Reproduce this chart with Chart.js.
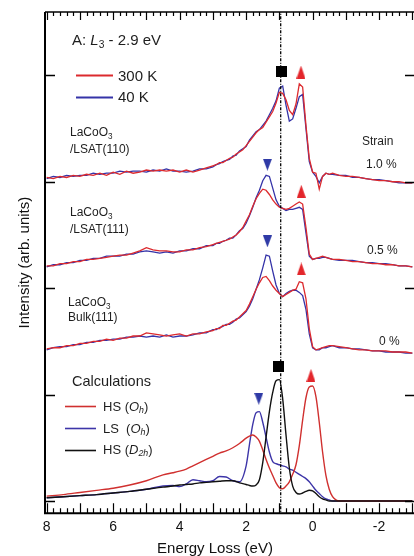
<!DOCTYPE html>
<html>
<head>
<meta charset="utf-8">
<script src="https://cdn.jsdelivr.net/npm/chart.js@4.4.1/dist/chart.umd.min.js"></script>
<style>
  html, body { margin: 0; padding: 0; background: #fff; }
  #wrap { width: 414px; height: 556px; position: relative; }
</style>
</head>
<body>
<div id="wrap"><canvas id="c"></canvas></div>
<script>
// energy loss grid of the measured spectra (eV)
const eExp = [
  8.0, 7.8, 7.6, 7.4, 7.2, 7.0, 6.8, 6.6, 6.4, 6.2, 6.0, 5.8, 5.6, 5.4, 5.2, 5.0, 4.8, 4.6, 4.4, 4.2, 4.0, 3.8, 3.6, 3.4, 3.2,
  3.0, 2.9, 2.8, 2.7, 2.6, 2.5, 2.4, 2.3, 2.2, 2.1, 2.0, 1.9, 1.8, 1.7, 1.6, 1.5, 1.4, 1.3, 1.2, 1.1, 1.0, 0.9, 0.8, 0.7, 0.6,
  0.5, 0.4, 0.3, 0.2, 0.1, 0.0, -0.1, -0.2, -0.3, -0.4, -0.5, -0.6,
  -0.8, -1.0, -1.2, -1.4, -1.6, -1.8, -2.0, -2.2, -2.4, -2.6, -2.8, -3.0,
];

// LaCoO3 Bulk(111), strain 0 %
const bulk300 = [
  1.43, 1.44, 1.44, 1.46, 1.46, 1.48, 1.48, 1.50, 1.50, 1.52, 1.51, 1.53, 1.53, 1.55, 1.55, 1.58, 1.57, 1.56, 1.55, 1.56, 1.57, 1.55, 1.57, 1.57, 1.59,
  1.60, 1.62, 1.62, 1.65, 1.65, 1.67, 1.69, 1.70, 1.73, 1.76, 1.79, 1.85, 1.92, 1.99, 2.05, 2.10, 2.11, 2.07, 2.02, 1.98, 1.95, 1.92, 1.94, 1.96, 1.98,
  1.99, 2.06, 2.05, 1.90, 1.62, 1.45, 1.42, 1.43, 1.44, 1.45, 1.46, 1.46,
  1.45, 1.44, 1.43, 1.42, 1.42, 1.41, 1.41, 1.41, 1.40, 1.40, 1.40, 1.39,
];
const bulk40 = [
  1.42, 1.44, 1.45, 1.45, 1.47, 1.47, 1.49, 1.49, 1.51, 1.51, 1.52, 1.52, 1.54, 1.54, 1.55, 1.54, 1.55, 1.54, 1.56, 1.54, 1.55, 1.55, 1.56, 1.58, 1.58,
  1.61, 1.61, 1.63, 1.64, 1.66, 1.66, 1.68, 1.71, 1.72, 1.75, 1.78, 1.83, 1.90, 1.99, 2.08, 2.19, 2.31, 2.30, 2.16, 2.03, 1.95, 1.92, 1.95, 1.97, 1.98,
  1.98, 1.96, 1.93, 1.80, 1.57, 1.44, 1.42, 1.42, 1.44, 1.44, 1.45, 1.46,
  1.44, 1.44, 1.43, 1.43, 1.42, 1.41, 1.41, 1.40, 1.40, 1.40, 1.39, 1.39,
];

// LaCoO3/LSAT(111), strain 0.5 %
const s05_300 = [
  2.21, 2.21, 2.23, 2.23, 2.25, 2.25, 2.27, 2.27, 2.28, 2.29, 2.30, 2.31, 2.31, 2.33, 2.35, 2.38, 2.36, 2.35, 2.35, 2.34, 2.34, 2.36, 2.36, 2.38, 2.39,
  2.41, 2.42, 2.43, 2.44, 2.45, 2.46, 2.48, 2.50, 2.53, 2.57, 2.63, 2.69, 2.77, 2.84, 2.89, 2.93, 2.92, 2.88, 2.83, 2.79, 2.76, 2.75, 2.74, 2.75, 2.77,
  2.79, 2.81, 2.79, 2.57, 2.32, 2.27, 2.28, 2.29, 2.30, 2.29, 2.28, 2.27,
  2.27, 2.26, 2.25, 2.25, 2.24, 2.23, 2.23, 2.22, 2.22, 2.21, 2.21, 2.20,
];
const s05_40 = [
  2.20, 2.22, 2.22, 2.24, 2.24, 2.26, 2.26, 2.28, 2.28, 2.30, 2.30, 2.30, 2.32, 2.32, 2.34, 2.35, 2.34, 2.33, 2.34, 2.33, 2.35, 2.35, 2.37, 2.37, 2.40,
  2.40, 2.42, 2.42, 2.44, 2.45, 2.47, 2.47, 2.50, 2.54, 2.56, 2.61, 2.68, 2.76, 2.85, 2.92, 3.01, 3.06, 3.05, 2.94, 2.83, 2.77, 2.75, 2.73, 2.74, 2.74,
  2.75, 2.76, 2.74, 2.52, 2.30, 2.27, 2.28, 2.28, 2.29, 2.29, 2.28, 2.27,
  2.26, 2.26, 2.26, 2.25, 2.24, 2.24, 2.23, 2.23, 2.22, 2.21, 2.21, 2.20,
];

// LaCoO3/LSAT(110), strain 1.0 %
const s10_300 = [
  3.04, 3.03, 3.05, 3.04, 3.06, 3.05, 3.07, 3.06, 3.08, 3.06, 3.09, 3.07, 3.10, 3.08, 3.09, 3.11, 3.10, 3.11, 3.10, 3.11, 3.09, 3.11, 3.09, 3.11, 3.13,
  3.15, 3.16, 3.18, 3.18, 3.20, 3.22, 3.23, 3.26, 3.28, 3.30, 3.34, 3.38, 3.42, 3.46, 3.49, 3.51, 3.56, 3.61, 3.66, 3.74, 3.84, 3.83, 3.77, 3.67, 3.63,
  3.73, 3.92, 3.89, 3.53, 3.22, 3.09, 3.08, 2.93, 3.05, 3.08, 3.07, 3.08,
  3.06, 3.05, 3.05, 3.04, 3.03, 3.02, 3.01, 3.01, 3.00, 3.00, 2.99, 2.99,
];
const s10_40 = [
  3.03, 3.05, 3.04, 3.06, 3.05, 3.06, 3.06, 3.08, 3.07, 3.08, 3.08, 3.10, 3.09, 3.10, 3.10, 3.09, 3.11, 3.10, 3.12, 3.10, 3.10, 3.09, 3.10, 3.12, 3.12,
  3.14, 3.16, 3.17, 3.19, 3.20, 3.21, 3.24, 3.25, 3.29, 3.31, 3.33, 3.39, 3.43, 3.47, 3.49, 3.53, 3.57, 3.63, 3.69, 3.76, 3.88, 3.90, 3.72, 3.57, 3.59,
  3.69, 3.80, 3.82, 3.50, 3.19, 3.09, 3.05, 2.99, 3.05, 3.08, 3.07, 3.07,
  3.06, 3.06, 3.04, 3.04, 3.03, 3.02, 3.02, 3.01, 3.00, 2.99, 2.99, 2.99,
];

// calculations
const eCalc = [
  8.0, 7.5, 7.0, 6.5, 6.0, 5.5, 5.0, 4.5, 4.2, 4.0, 3.8, 3.6, 3.4, 3.2, 3.0, 2.8, 2.6, 2.4, 2.2, 2.0,
  1.9, 1.8, 1.7, 1.6, 1.5, 1.4, 1.3, 1.2, 1.1, 1.0, 0.9, 0.8, 0.7, 0.6, 0.5, 0.4, 0.3, 0.2, 0.1, 0.0,
  -0.1, -0.2, -0.3, -0.4, -0.5, -0.6, -0.7, -0.8, -1.0, -3.0,
];
const hsOh = [
  0.045, 0.06, 0.08, 0.10, 0.12, 0.15, 0.19, 0.245, 0.265, 0.28, 0.30, 0.33, 0.36, 0.39, 0.42, 0.45, 0.47, 0.50, 0.54, 0.59,
  0.61, 0.62, 0.60, 0.56, 0.48, 0.39, 0.31, 0.24, 0.17, 0.125, 0.115, 0.14, 0.18, 0.25, 0.34, 0.52, 0.76, 0.97, 1.07, 1.08,
  0.98, 0.74, 0.46, 0.24, 0.11, 0.04, 0.01, 0, 0, 0,
];
const lsOh = [
  0.03, 0.04, 0.05, 0.06, 0.075, 0.09, 0.11, 0.14, 0.145, 0.135, 0.16, 0.20, 0.19, 0.18, 0.19, 0.23, 0.225, 0.19, 0.18, 0.33,
  0.53, 0.72, 0.83, 0.84, 0.74, 0.60, 0.46, 0.37, 0.35, 0.34, 0.33, 0.32, 0.30, 0.29, 0.27, 0.25, 0.23, 0.21, 0.18, 0.14,
  0.10, 0.07, 0.04, 0.02, 0.01, 0, 0, 0, 0, 0,
];
const hsD2h = [
  0.03, 0.04, 0.05, 0.06, 0.075, 0.09, 0.11, 0.13, 0.14, 0.15, 0.155, 0.16, 0.17, 0.175, 0.18, 0.185, 0.19, 0.19, 0.17, 0.155,
  0.145, 0.14, 0.15, 0.20, 0.36, 0.60, 0.84, 1.02, 1.13, 1.14, 0.96, 0.62, 0.31, 0.14, 0.08, 0.065, 0.075, 0.09, 0.10, 0.095,
  0.07, 0.04, 0.02, 0.01, 0, 0, 0, 0, 0, 0,
];

// peak markers
const upE = [0.35, 0.34, 0.34, 0.05];
const upY = [4.03, 2.91, 2.18, 1.18];
const downE = [1.36, 1.36, 1.62];
const downY = [3.16, 2.44, 0.96];
const sqE = [0.95, 1.03];
const sqY = [4.04, 1.26];
const guideE = 0.96;

const yTicks = [0, 1, 2, 3, 4];

const FONT = "'Liberation Sans', Arial, sans-serif";
const RED = "#dc2a2e", BLUE = "#3533a8", CRED = "#d0302f", CBLUE = "#3d35a8", BLK = "#111";

const pts = (xs, ys) => xs.map((x, i) => ({ x, y: ys[i] }));

function shape(w, h, color, kind) {
  const c = document.createElement("canvas");
  c.width = w;
  c.height = h;
  const g = c.getContext("2d");
  g.fillStyle = color;
  g.beginPath();
  if (kind === "up") { g.moveTo(w / 2, 0); g.lineTo(w, h); g.lineTo(0, h); }
  else if (kind === "down") { g.moveTo(0, 0); g.lineTo(w, 0); g.lineTo(w / 2, h); }
  else g.rect(0, 0, w, h);
  g.closePath();
  g.fill();
  return c;
}

const exp = (data, color) => ({
  data, borderColor: color, borderWidth: 1.3, pointRadius: 0, tension: 0, fill: false,
});
const calc = (data, color) => ({
  data, borderColor: color, borderWidth: 1.4, pointRadius: 0, cubicInterpolationMode: "monotone", fill: false,
});
const mark = (data, img) => ({
  data, showLine: false, pointRadius: 6, pointStyle: img, borderWidth: 0,
});

function rich(ctx, x, y, parts, size) {
  ctx.textBaseline = "middle";
  ctx.textAlign = "left";
  parts.forEach((p) => {
    const s = p.sub ? size * 0.68 : size;
    ctx.font = `${p.it ? "italic " : ""}${s}px ${FONT}`;
    ctx.fillText(p.t, x, y + (p.sub ? size * 0.3 : 0));
    x += ctx.measureText(p.t).width;
  });
}

const deco = {
  id: "deco",
  // let the plot run to the right edge of the canvas, like the figure
  afterLayout(chart) {
    const a = chart.chartArea, sx = chart.scales.x;
    a.right = chart.width;
    a.width = a.right - a.left;
    sx.right = chart.width;
    sx.width = sx.right - sx.left;
    sx.configure();
  },
  afterDraw(chart) {
    const ctx = chart.ctx, a = chart.chartArea, sx = chart.scales.x, sy = chart.scales.y;
    ctx.save();
    ctx.strokeStyle = "#000";
    ctx.lineWidth = 2;
    ctx.beginPath();
    ctx.moveTo(a.left, a.top);
    ctx.lineTo(a.left, a.bottom);
    ctx.lineTo(a.right, a.bottom);
    ctx.stroke();
    ctx.lineWidth = 1.5;
    ctx.beginPath();
    ctx.moveTo(a.left, a.top);
    ctx.lineTo(a.right, a.top);
    ctx.stroke();

    ctx.lineWidth = 1.2;
    ctx.beginPath();
    for (let i = -15; i <= 40; i++) {
      const px = Math.round(sx.getPixelForValue(i / 5)) + 0.5;
      if (px < a.left || px > a.right) continue;
      const big = i % 5 === 0;
      ctx.moveTo(px, a.bottom);
      ctx.lineTo(px, a.bottom - (big ? 10 : 5));
      ctx.moveTo(px, a.top);
      ctx.lineTo(px, a.top + (big ? 8 : 4));
    }
    ctx.stroke();
    ctx.lineWidth = 1.6;
    ctx.beginPath();
    yTicks.forEach((v) => {
      const py = Math.round(sy.getPixelForValue(v)) + 0.5;
      ctx.moveTo(a.left, py);
      ctx.lineTo(a.left + 10, py);
      ctx.moveTo(a.right, py);
      ctx.lineTo(a.right - 9, py);
    });
    ctx.stroke();

    ctx.fillStyle = "#1e1e1e";
    rich(ctx, 72, 41, [{ t: "A: " }, { t: "L", it: 1 }, { t: "3", sub: 1 }, { t: " - 2.9 eV" }], 15);

    const leg = (x1, x2, y, color, w) => {
      ctx.strokeStyle = color;
      ctx.lineWidth = w;
      ctx.beginPath();
      ctx.moveTo(x1, y);
      ctx.lineTo(x2, y);
      ctx.stroke();
    };
    leg(76, 113, 75.5, RED, 1.8);
    leg(76, 113, 97.5, BLUE, 1.8);
    rich(ctx, 118, 77, [{ t: "300 K" }], 15);
    rich(ctx, 118, 98, [{ t: "40 K" }], 15);

    const s = 12;
    rich(ctx, 70, 133, [{ t: "LaCoO" }, { t: "3", sub: 1 }], s);
    rich(ctx, 70, 150, [{ t: "/LSAT(110)" }], s);
    rich(ctx, 70, 213, [{ t: "LaCoO" }, { t: "3", sub: 1 }], s);
    rich(ctx, 70, 230, [{ t: "/LSAT(111)" }], s);
    rich(ctx, 68, 303, [{ t: "LaCoO" }, { t: "3", sub: 1 }], s);
    rich(ctx, 68, 318, [{ t: "Bulk(111)" }], s);
    rich(ctx, 362, 142, [{ t: "Strain" }], s);
    rich(ctx, 366, 165, [{ t: "1.0 %" }], s);
    rich(ctx, 367, 251, [{ t: "0.5 %" }], s);
    rich(ctx, 379, 342, [{ t: "0 %" }], s);

    rich(ctx, 72, 382, [{ t: "Calculations" }], 14.5);
    leg(65, 96, 406.5, CRED, 1.6);
    leg(65, 96, 428.5, CBLUE, 1.6);
    leg(65, 96, 450.5, BLK, 1.6);
    rich(ctx, 103, 407, [{ t: "HS (" }, { t: "O", it: 1 }, { t: "h", it: 1, sub: 1 }, { t: ")" }], 13);
    rich(ctx, 103, 429, [{ t: "LS  (" }, { t: "O", it: 1 }, { t: "h", it: 1, sub: 1 }, { t: ")" }], 13);
    rich(ctx, 103, 450, [{ t: "HS (" }, { t: "D", it: 1 }, { t: "2h", it: 1, sub: 1 }, { t: ")" }], 13);

    ctx.fillStyle = "#111";
    ctx.font = `15px ${FONT}`;
    ctx.textAlign = "center";
    ctx.textBaseline = "middle";
    ctx.fillText("Energy Loss (eV)", 215, 549);
    ctx.translate(25, (a.top + a.bottom) / 2);
    ctx.rotate(-Math.PI / 2);
    ctx.fillText("Intensity (arb. units)", 0, 0);
    ctx.restore();
  },
};

new Chart(document.getElementById("c"), {
  type: "line",
  data: {
    datasets: [
      mark(pts(upE, upY), shape(9, 13, "#e3262b", "up")),
      mark(pts(downE, downY), shape(9, 12, "#2f3aa6", "down")),
      mark(pts(sqE, sqY), shape(11, 11, "#000", "sq")),
      {
        data: [{ x: guideE, y: -1 }, { x: guideE, y: 6 }],
        borderColor: "#000", borderWidth: 1.3, borderDash: [3, 1.5, 1, 1.5], pointRadius: 0,
      },
      exp(pts(eExp, s10_300), RED),
      exp(pts(eExp, s10_40), BLUE),
      exp(pts(eExp, s05_300), RED),
      exp(pts(eExp, s05_40), BLUE),
      exp(pts(eExp, bulk300), RED),
      exp(pts(eExp, bulk40), BLUE),
      calc(pts(eCalc, hsD2h), BLK),
      calc(pts(eCalc, hsOh), CRED),
      calc(pts(eCalc, lsOh), CBLUE),
    ],
  },
  options: {
    responsive: true,
    maintainAspectRatio: false,
    animation: false,
    events: [],
    layout: { padding: { left: 45, right: 0, top: 12, bottom: 14 } },
    plugins: { legend: { display: false }, tooltip: { enabled: false } },
    scales: {
      x: {
        type: "linear",
        min: -3.05,
        max: 8.05,
        reverse: true,
        grid: { display: false, drawTicks: false },
        border: { display: false },
        ticks: {
          stepSize: 1,
          includeBounds: false,
          autoSkip: false,
          maxRotation: 0,
          padding: 6,
          color: "#111",
          font: { family: FONT, size: 14 },
          callback: (v) => (Number.isInteger(v) && v % 2 === 0 && v >= -2 ? String(v) : ""),
        },
      },
      y: { display: false, min: -0.115, max: 4.595 },
    },
  },
  plugins: [deco],
});
</script>
</body>
</html>
